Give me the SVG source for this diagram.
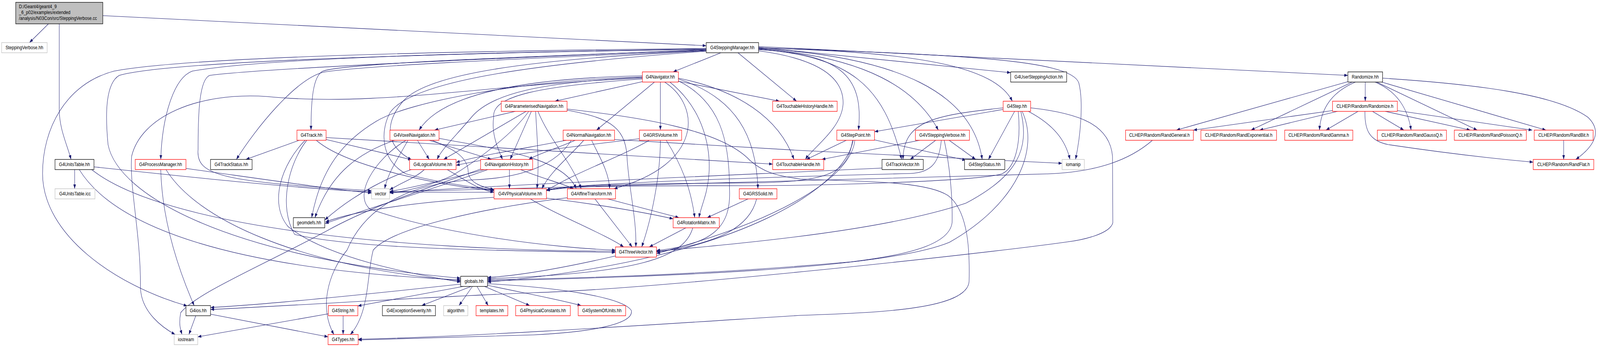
<svg xmlns="http://www.w3.org/2000/svg" width="4887" height="888" viewBox="0 0 4887 888" preserveAspectRatio="none" style="width:100vw;height:100vh;display:block">
<defs>
<marker id="a" viewBox="0 0 11 8" refX="11" refY="4" markerWidth="11" markerHeight="8" markerUnits="userSpaceOnUse" orient="auto"><path d="M0,0 L11,4 L0,8 z" fill="#191970"/></marker>
<style>
.e{fill:none;stroke:#191970;stroke-width:1.1;marker-end:url(#a)}
rect.k{fill:#fff;stroke:#000;stroke-width:1.3}
rect.r{fill:#fff;stroke:#ff0000;stroke-width:1.3}
rect.g{fill:#fff;stroke:#bfbfbf;stroke-width:1.3}
rect.root{fill:#bfbfbf;stroke:#000;stroke-width:1.3}
text{font-family:"Liberation Sans",Arial,Helvetica,sans-serif;font-size:12.8px;fill:#000;text-anchor:middle}
text.l{text-anchor:start}
</style>
</defs>
<rect x="0" y="0" width="4887" height="888" fill="#fff"/>
<g id="edges">
<path class="e" d="M148,61 L90,109"/>
<path class="e" d="M181,61 L181,280 C181,330 205,370 217,408"/>
<path class="e" d="M314,40 L2157,117"/>
<path class="e" d="M228,434 L228,483"/>
<path class="e" d="M242,434 C350,580 700,690 1407,716"/>
<path class="e" d="M287,427 C600,455 900,482 1135,491"/>
<path class="e" d="M280,434 C500,580 1200,640 1880,643"/>
<path class="e" d="M2157,124 C1200,132 550,150 348,182 C200,215 130,330 130,444 C130,600 350,730 572,783"/>
<path class="e" d="M2157,125 C1400,135 800,150 587,182 C530,200 495,300 491,408"/>
<path class="e" d="M2157,126 C1200,138 500,160 364,193 C320,215 322,300 330,370 C360,500 700,660 1407,712"/>
<path class="e" d="M2157,127 C1500,150 800,175 640,193 C607,205 605,300 605,383 C598,450 680,465 1135,488"/>
<path class="e" d="M2157,128 C1600,145 1050,162 986,182 C955,195 950,260 950,333"/>
<path class="e" d="M2157,129 C1600,150 1100,168 986,185 C900,205 780,330 722,408"/>
<path class="e" d="M2157,130 C1600,152 1300,190 1230,260 C1180,310 1170,370 1257,409"/>
<path class="e" d="M2157,131 C1600,165 1250,210 1190,290 C1160,340 1165,410 1240,445 C1350,470 1450,478 1509,487"/>
<path class="e" d="M2202,135 L2056,184"/>
<path class="e" d="M2254,135 L2433,259"/>
<path class="e" d="M2317,130 C2450,145 2580,180 2575,267 C2570,330 2480,380 2460,408"/>
<path class="e" d="M2317,127 C2560,138 2640,190 2622,333"/>
<path class="e" d="M2317,126 C2600,145 2700,220 2754,408"/>
<path class="e" d="M2317,125 C2650,145 2800,230 2866,333"/>
<path class="e" d="M2317,124 C2750,145 2970,240 3000,408"/>
<path class="e" d="M2317,121 L3087,186"/>
<path class="e" d="M2317,123 C2800,132 3040,170 3092,259"/>
<path class="e" d="M2317,119 L4117,193"/>
<path class="e" d="M2317,122 C2900,140 3270,150 3295,212 C3310,260 3300,350 3285,408"/>
<path class="e" d="M491,434 C495,560 540,680 593,782"/>
<path class="e" d="M507,434 C600,560 900,680 1407,719"/>
<path class="e" d="M568,431 C800,458 1000,483 1135,494"/>
<path class="e" d="M914,359 L751,408"/>
<path class="e" d="M932,359 C860,420 820,520 880,580 C1000,660 1250,700 1407,722"/>
<path class="e" d="M937,359 C880,420 850,530 900,600 C1100,640 1600,642 1880,646"/>
<path class="e" d="M966,359 C1050,420 1300,470 1509,488"/>
<path class="e" d="M996,352 L2360,420"/>
<path class="e" d="M996,357 L1258,409"/>
<path class="e" d="M1962,209 L1695,259"/>
<path class="e" d="M1999,210 L1822,333"/>
<path class="e" d="M2017,210 L2017,333"/>
<path class="e" d="M2072,208 L2381,259"/>
<path class="e" d="M2072,200 C2250,230 2380,300 2425,408"/>
<path class="e" d="M2030,210 C2140,270 2150,420 1875,483"/>
<path class="e" d="M2046,210 C2150,280 2172,380 2165,450 C2160,500 2140,530 2135,557"/>
<path class="e" d="M2072,207 C2200,260 2228,360 2228,480 C2235,580 2180,625 2005,641"/>
<path class="e" d="M2072,202 C2250,250 2310,350 2315,483"/>
<path class="e" d="M1962,194 C1600,200 1350,240 1280,333"/>
<path class="e" d="M1962,198 C1650,210 1500,240 1440,300 C1390,350 1350,380 1335,408"/>
<path class="e" d="M1962,202 C1650,220 1500,245 1508,300 C1500,340 1520,380 1535,408"/>
<path class="e" d="M1962,200 C1500,215 1150,275 815,247 C600,235 430,300 402,400 C395,480 430,600 429,734 C430,800 500,840 535,856"/>
<path class="e" d="M1962,197 C1600,205 1250,260 1150,310 C1050,360 980,430 952,557"/>
<path class="e" d="M1574,285 L1327,333"/>
<path class="e" d="M1607,285 L1355,408"/>
<path class="e" d="M1623,285 L1558,408"/>
<path class="e" d="M1615,285 C1560,350 1440,420 1380,450 C1300,480 1230,490 1190,494"/>
<path class="e" d="M1636,285 C1640,350 1648,420 1640,483"/>
<path class="e" d="M1643,285 C1680,360 1750,420 1775,483"/>
<path class="e" d="M1732,282 C1850,300 1910,320 1915,400 C1920,480 1945,560 1942,632"/>
<path class="e" d="M1732,279 C1950,300 2200,330 2290,410 C2330,440 2370,450 2445,458 C2600,465 2820,460 2895,500 C2960,540 2962,650 2960,720 C2955,790 2700,800 2445,807 C2100,825 1500,860 1094,868"/>
<path class="e" d="M1205,359 C1100,390 1010,440 962,557"/>
<path class="e" d="M1275,359 L1311,408"/>
<path class="e" d="M1311,359 L1501,408"/>
<path class="e" d="M1341,354 C1500,380 1720,400 1760,483"/>
<path class="e" d="M1246,359 C1220,400 1185,440 1175,483"/>
<path class="e" d="M1240,359 C1140,410 1080,500 1130,535 C1350,600 1700,635 1880,640"/>
<path class="e" d="M1320,359 C1380,380 1430,400 1430,440 C1432,470 1480,480 1509,485"/>
<path class="e" d="M1730,359 C1600,380 1450,400 1393,416"/>
<path class="e" d="M1757,359 C1700,380 1640,395 1615,408"/>
<path class="e" d="M1783,359 C1740,400 1680,440 1655,483"/>
<path class="e" d="M1807,359 C1830,400 1860,440 1862,483"/>
<path class="e" d="M1877,357 L2445,385 L3244,418"/>
<path class="e" d="M1745,359 C1700,420 1600,455 1450,460 C1200,470 1100,560 1060,640 C1000,700 975,790 1020,856"/>
<path class="e" d="M1953,355 C1750,375 1550,395 1393,423"/>
<path class="e" d="M1983,359 C1900,400 1760,440 1669,488"/>
<path class="e" d="M2017,359 C2017,450 1990,560 1960,632"/>
<path class="e" d="M2035,359 C2080,420 2110,480 2122,557"/>
<path class="e" d="M3064,276 C2850,295 2760,310 2758,408"/>
<path class="e" d="M3064,280 L2671,337"/>
<path class="e" d="M3099,285 L3019,408"/>
<path class="e" d="M3141,285 C3220,320 3255,360 3268,408"/>
<path class="e" d="M3110,285 C3120,370 3100,430 3060,445 C3000,460 2700,470 2445,474 C2100,478 1760,470 1669,488"/>
<path class="e" d="M3118,285 C3145,380 3110,450 2950,520 C2700,590 2300,620 2005,643"/>
<path class="e" d="M3122,285 C3175,380 3110,520 2900,620 C2700,690 2000,708 1489,719"/>
<path class="e" d="M3148,276 C3300,290 3390,320 3398,400 L3399,570 C3390,600 3300,615 3260,619 C3000,650 2000,740 1630,749 C1300,760 900,782 643,792"/>
<path class="e" d="M2585,359 L2463,408"/>
<path class="e" d="M2671,358 L2950,410"/>
<path class="e" d="M2604,359 C2590,440 2540,465 2300,468 C2000,470 1760,470 1669,487"/>
<path class="e" d="M2611,359 C2600,450 2400,560 2005,649"/>
<path class="e" d="M2606,359 C2580,470 2300,660 1489,722"/>
<path class="e" d="M2809,359 L2510,408"/>
<path class="e" d="M2858,359 L2780,408"/>
<path class="e" d="M2899,359 L2980,408"/>
<path class="e" d="M2875,359 C2870,410 2850,442 2780,444 C2400,452 1760,468 1669,486"/>
<path class="e" d="M2884,359 C2900,420 2910,500 2908,570 C2900,620 2800,650 2600,670 C2200,700 1800,712 1489,716"/>
<path class="e" d="M2694,430 C2300,446 1600,470 1190,493"/>
<path class="e" d="M3520,359 C3450,410 3350,440 3200,445 C2500,455 1800,475 1190,491"/>
<path class="e" d="M1256,434 C1200,450 1090,490 992,563"/>
<path class="e" d="M1296,434 C1270,455 1220,470 1190,486"/>
<path class="e" d="M1366,434 C1420,460 1460,485 1509,492"/>
<path class="e" d="M1470,432 C1350,470 1150,520 1000,590 C800,680 600,750 552,800 C545,830 552,845 556,856"/>
<path class="e" d="M1490,434 C1300,490 1100,540 993,572"/>
<path class="e" d="M1590,434 C1650,455 1720,470 1752,483"/>
<path class="e" d="M1556,434 L1556,483"/>
<path class="e" d="M1480,434 C1350,462 1250,482 1190,490"/>
<path class="e" d="M1509,492 L1190,492"/>
<path class="e" d="M1509,505 C1300,515 1100,535 994,568"/>
<path class="e" d="M1620,509 C1700,550 1850,600 1905,632"/>
<path class="e" d="M1669,507 C1800,520 1950,540 2056,560"/>
<path class="e" d="M1817,509 L1931,632"/>
<path class="e" d="M1856,509 L2074,557"/>
<path class="e" d="M1733,506 C1500,530 1200,580 1140,640 C1120,700 1130,800 1070,856"/>
<path class="e" d="M2285,509 L2160,557"/>
<path class="e" d="M2311,509 C2290,580 2200,622 2005,645"/>
<path class="e" d="M2095,583 L1983,632"/>
<path class="e" d="M2116,583 C2090,660 1950,700 1489,713"/>
<path class="e" d="M1880,655 C1750,680 1600,705 1489,710"/>
<path class="e" d="M1407,727 C1100,755 800,780 643,787"/>
<path class="e" d="M1415,733 L1093,783"/>
<path class="e" d="M1439,733 L1288,782"/>
<path class="e" d="M1443,733 L1402,782"/>
<path class="e" d="M1457,733 L1491,782"/>
<path class="e" d="M1480,733 L1618,782"/>
<path class="e" d="M1489,730 C1600,750 1700,765 1775,782"/>
<path class="e" d="M1489,726 C1700,735 1900,760 1928,794 C1940,830 1800,850 1630,857 L1094,870"/>
<path class="e" d="M1048,808 L1048,856"/>
<path class="e" d="M1003,803 L604,862"/>
<path class="e" d="M598,808 L577,856"/>
<path class="e" d="M643,804 L1002,862"/>
<path class="e" d="M4170,210 L4170,259"/>
<path class="e" d="M4117,209 L3593,333"/>
<path class="e" d="M4130,210 L3821,333"/>
<path class="e" d="M4140,210 C4070,235 4035,275 4030,333"/>
<path class="e" d="M4200,210 C4270,235 4300,280 4310,333"/>
<path class="e" d="M4205,210 L4512,333"/>
<path class="e" d="M4220,210 L4722,333"/>
<path class="e" d="M4223,200 C4500,215 4750,240 4850,300 C4900,340 4860,380 4813,408"/>
<path class="e" d="M4070,283 L3645,333"/>
<path class="e" d="M4085,285 L3847,333"/>
<path class="e" d="M4148,285 L4050,333"/>
<path class="e" d="M4192,285 L4288,333"/>
<path class="e" d="M4231,285 L4491,333"/>
<path class="e" d="M4268,283 L4680,333"/>
<path class="e" d="M4169,285 C4168,330 4180,360 4240,370 C4400,390 4550,405 4683,415"/>
<path class="e" d="M4776,359 L4776,408"/>
</g>
<g id="n-root"><rect class="root" x="48" y="6" width="266" height="55"/><text class="l" x="58" y="21.5">D:/Geant4/geant4_9</text><text class="l" x="58" y="36.5">_6_p02/examples/extended</text><text class="l" x="58" y="51.5">/analysis/N03Con/src/SteppingVerbose.cc</text></g>
<g id="n-SteppingVerbose"><rect class="g" x="5" y="109" width="139" height="26"/><text x="74.5" y="126.5">SteppingVerbose.hh</text></g>
<g id="n-G4SteppingManager"><rect class="k" x="2157" y="109" width="160" height="26"/><text x="2237" y="126.5">G4SteppingManager.hh</text></g>
<g id="n-G4Navigator"><rect class="r" x="1962" y="184" width="110" height="26"/><text x="2017" y="201.5">G4Navigator.hh</text></g>
<g id="n-G4UserSteppingAction"><rect class="k" x="3087" y="184" width="171" height="26"/><text x="3172.5" y="201.5">G4UserSteppingAction.hh</text></g>
<g id="n-Randomize"><rect class="k" x="4117" y="184" width="106" height="26"/><text x="4170" y="201.5">Randomize.hh</text></g>
<g id="n-G4ParameterisedNavigation"><rect class="r" x="1531" y="259" width="201" height="26"/><text x="1631.5" y="276.5">G4ParameterisedNavigation.hh</text></g>
<g id="n-G4TouchableHistoryHandle"><rect class="r" x="2360" y="259" width="197" height="26"/><text x="2458.5" y="276.5">G4TouchableHistoryHandle.hh</text></g>
<g id="n-G4Step"><rect class="r" x="3064" y="259" width="84" height="26"/><text x="3106" y="276.5">G4Step.hh</text></g>
<g id="n-CLHEP-Randomize"><rect class="r" x="4070" y="259" width="198" height="26"/><text x="4169" y="276.5">CLHEP/Random/Randomize.h</text></g>
<g id="n-G4Track"><rect class="r" x="907" y="333" width="89" height="26"/><text x="951.5" y="350.5">G4Track.hh</text></g>
<g id="n-G4VoxelNavigation"><rect class="r" x="1191" y="333" width="150" height="26"/><text x="1266" y="350.5">G4VoxelNavigation.hh</text></g>
<g id="n-G4NormalNavigation"><rect class="r" x="1720" y="333" width="157" height="26"/><text x="1798.5" y="350.5">G4NormalNavigation.hh</text></g>
<g id="n-G4GRSVolume"><rect class="r" x="1953" y="333" width="129" height="26"/><text x="2017.5" y="350.5">G4GRSVolume.hh</text></g>
<g id="n-G4StepPoint"><rect class="r" x="2556" y="333" width="115" height="26"/><text x="2613.5" y="350.5">G4StepPoint.hh</text></g>
<g id="n-G4VSteppingVerbose"><rect class="r" x="2796" y="333" width="165" height="26"/><text x="2878.5" y="350.5">G4VSteppingVerbose.hh</text></g>
<g id="n-RandGeneral"><rect class="r" x="3438" y="333" width="207" height="26"/><text x="3541.5" y="350.5">CLHEP/Random/RandGeneral.h</text></g>
<g id="n-RandExponential"><rect class="r" x="3668" y="333" width="231" height="26"/><text x="3783.5" y="350.5">CLHEP/Random/RandExponential.h</text></g>
<g id="n-RandGamma"><rect class="r" x="3924" y="333" width="208" height="26"/><text x="4028" y="350.5">CLHEP/Random/RandGamma.h</text></g>
<g id="n-RandGaussQ"><rect class="r" x="4207" y="333" width="211" height="26"/><text x="4312.5" y="350.5">CLHEP/Random/RandGaussQ.h</text></g>
<g id="n-RandPoissonQ"><rect class="r" x="4442" y="333" width="220" height="26"/><text x="4552" y="350.5">CLHEP/Random/RandPoissonQ.h</text></g>
<g id="n-RandBit"><rect class="r" x="4686" y="333" width="180" height="26"/><text x="4776" y="350.5">CLHEP/Random/RandBit.h</text></g>
<g id="n-G4UnitsTable"><rect class="k" x="168" y="408" width="119" height="26"/><text x="227.5" y="425.5">G4UnitsTable.hh</text></g>
<g id="n-G4ProcessManager"><rect class="r" x="413" y="408" width="155" height="26"/><text x="490.5" y="425.5">G4ProcessManager.hh</text></g>
<g id="n-G4TrackStatus"><rect class="k" x="643" y="408" width="127" height="26"/><text x="706.5" y="425.5">G4TrackStatus.hh</text></g>
<g id="n-G4LogicalVolume"><rect class="r" x="1251" y="408" width="142" height="26"/><text x="1322" y="425.5">G4LogicalVolume.hh</text></g>
<g id="n-G4NavigationHistory"><rect class="r" x="1468" y="408" width="159" height="26"/><text x="1547.5" y="425.5">G4NavigationHistory.hh</text></g>
<g id="n-G4TouchableHandle"><rect class="r" x="2360" y="408" width="156" height="26"/><text x="2438" y="425.5">G4TouchableHandle.hh</text></g>
<g id="n-G4TrackVector"><rect class="k" x="2694" y="408" width="126" height="26"/><text x="2757" y="425.5">G4TrackVector.hh</text></g>
<g id="n-G4StepStatus"><rect class="k" x="2946" y="408" width="123" height="26"/><text x="3007.5" y="425.5">G4StepStatus.hh</text></g>
<g id="n-iomanip"><rect class="g" x="3244" y="408" width="68" height="26"/><text x="3278" y="425.5">iomanip</text></g>
<g id="n-RandFlat"><rect class="r" x="4683" y="408" width="185" height="26"/><text x="4775.5" y="425.5">CLHEP/Random/RandFlat.h</text></g>
<g id="n-G4UnitsTable-icc"><rect class="g" x="168" y="483" width="122" height="26"/><text x="229" y="500.5">G4UnitsTable.icc</text></g>
<g id="n-vector"><rect class="g" x="1135" y="483" width="55" height="26"/><text x="1162.5" y="500.5">vector</text></g>
<g id="n-G4VPhysicalVolume"><rect class="r" x="1509" y="483" width="160" height="26"/><text x="1589" y="500.5">G4VPhysicalVolume.hh</text></g>
<g id="n-G4AffineTransform"><rect class="r" x="1733" y="483" width="147" height="26"/><text x="1806.5" y="500.5">G4AffineTransform.hh</text></g>
<g id="n-G4GRSSolid"><rect class="r" x="2258" y="483" width="115" height="26"/><text x="2315.5" y="500.5">G4GRSSolid.hh</text></g>
<g id="n-geomdefs"><rect class="k" x="896" y="557" width="96" height="26"/><text x="944" y="574.5">geomdefs.hh</text></g>
<g id="n-G4RotationMatrix"><rect class="r" x="2056" y="557" width="141" height="26"/><text x="2126.5" y="574.5">G4RotationMatrix.hh</text></g>
<g id="n-G4ThreeVector"><rect class="r" x="1880" y="632" width="125" height="26"/><text x="1942.5" y="649.5">G4ThreeVector.hh</text></g>
<g id="n-globals"><rect class="k" x="1407" y="707" width="82" height="26"/><text x="1448" y="724.5">globals.hh</text></g>
<g id="n-G4ios"><rect class="k" x="568" y="782" width="75" height="26"/><text x="605.5" y="799.5">G4ios.hh</text></g>
<g id="n-G4String"><rect class="r" x="1003" y="782" width="90" height="26"/><text x="1048" y="799.5">G4String.hh</text></g>
<g id="n-G4ExceptionSeverity"><rect class="k" x="1168" y="782" width="162" height="26"/><text x="1249" y="799.5">G4ExceptionSeverity.hh</text></g>
<g id="n-algorithm"><rect class="g" x="1355" y="782" width="74" height="26"/><text x="1392" y="799.5">algorithm</text></g>
<g id="n-templates"><rect class="r" x="1454" y="782" width="97" height="26"/><text x="1502.5" y="799.5">templates.hh</text></g>
<g id="n-G4PhysicalConstants"><rect class="r" x="1575" y="782" width="167" height="26"/><text x="1658.5" y="799.5">G4PhysicalConstants.hh</text></g>
<g id="n-G4SystemOfUnits"><rect class="r" x="1766" y="782" width="145" height="26"/><text x="1838.5" y="799.5">G4SystemOfUnits.hh</text></g>
<g id="n-iostream"><rect class="g" x="532" y="856" width="72" height="26"/><text x="568" y="873.5">iostream</text></g>
<g id="n-G4Types"><rect class="r" x="1002" y="856" width="92" height="26"/><text x="1048" y="873.5">G4Types.hh</text></g>
</svg>
